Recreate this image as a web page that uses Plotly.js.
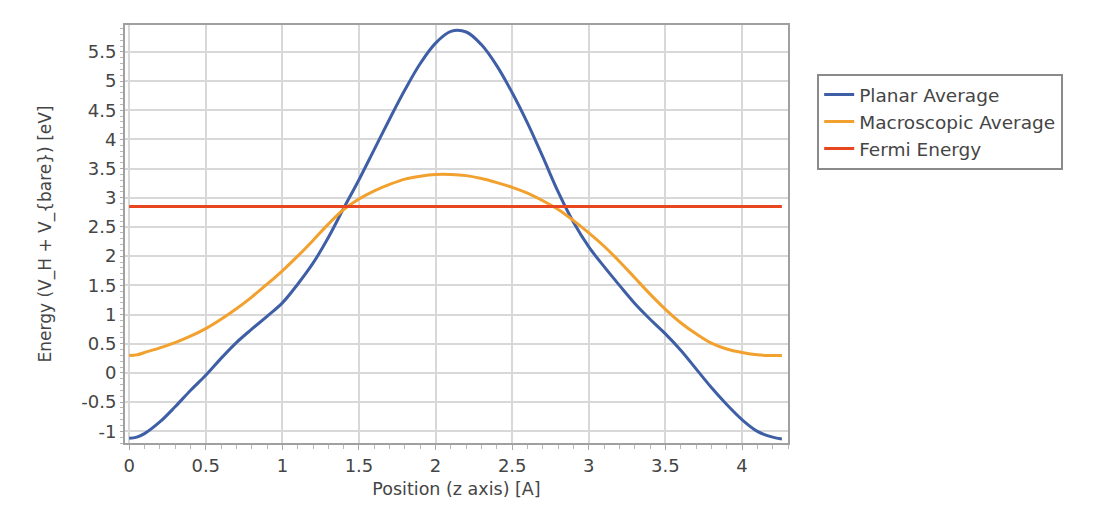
<!DOCTYPE html>
<html>
<head>
<meta charset="utf-8">
<script src="https://cdn.plot.ly/plotly-3.0.1.min.js"></script>
<style>html,body{margin:0;padding:0;background:#fff;}#chart{width:1110px;height:521px;}</style>
</head>
<body>
<div id="chart"></div>
<script>
// Positions along z axis [A]
const positions = [0,0.05,0.1,0.2,0.3,0.4,0.5,0.6,0.7,0.8,0.9,1.0,1.1,1.2,1.3,1.4,1.5,1.6,1.7,1.8,1.9,2.0,2.1,2.2,2.3,2.4,2.5,2.6,2.7,2.8,2.9,3.0,3.1,3.2,3.3,3.4,3.5,3.6,3.7,3.8,3.9,4.0,4.1,4.2,4.26];
// Planar average [eV]
const planarAverage = [-1.12,-1.1,-1.04,-0.84,-0.58,-0.3,-0.04,0.25,0.52,0.75,0.97,1.2,1.52,1.88,2.32,2.82,3.31,3.83,4.35,4.85,5.3,5.65,5.85,5.84,5.62,5.26,4.8,4.28,3.7,3.1,2.58,2.16,1.82,1.5,1.19,0.92,0.67,0.39,0.07,-0.25,-0.54,-0.8,-1.0,-1.1,-1.13];
// Macroscopic average [eV]
const macroAverage = [0.3,0.31,0.35,0.43,0.52,0.63,0.76,0.92,1.1,1.3,1.52,1.75,2.0,2.27,2.55,2.8,2.98,3.12,3.23,3.32,3.37,3.4,3.4,3.38,3.33,3.26,3.18,3.08,2.95,2.8,2.61,2.4,2.17,1.91,1.63,1.35,1.09,0.86,0.67,0.51,0.41,0.35,0.31,0.3,0.3];
// Fermi energy [eV]
const fermiEnergy = 2.85;
const fermiX = [0, 4.26];
const fermiY = [fermiEnergy, fermiEnergy];
const seriesNames = ["Planar Average", "Macroscopic Average", "Fermi Energy"];
const yTickVals = [-1,-0.5,0,0.5,1,1.5,2,2.5,3,3.5,4,4.5,5,5.5];
const xTickVals = [0,0.5,1,1.5,2,2.5,3,3.5,4];

const traces = [
  {x: positions, y: planarAverage, name: seriesNames[0], mode: 'lines', line: {color: '#3e5ea6', width: 3, shape: 'spline', smoothing: 1}},
  {x: positions, y: macroAverage, name: seriesNames[1], mode: 'lines', line: {color: '#f2a02e', width: 3, shape: 'spline', smoothing: 1}},
  {x: fermiX, y: fermiY, name: seriesNames[2], mode: 'lines', line: {color: '#e8461e', width: 3}}
];

const fontFam = '"DejaVu Sans", "Liberation Sans", sans-serif';
const txt = '#454545';
const layout = {
  width: 1110, height: 521,
  margin: {l: 125, r: 322, t: 25, b: 78},
  paper_bgcolor: '#ffffff', plot_bgcolor: '#ffffff',
  font: {family: fontFam, size: 16, color: txt},
  showlegend: true,
  legend: {
    x: 1.044, y: 0.883, xanchor: 'left', yanchor: 'top',
    bordercolor: '#8a8a8a', borderwidth: 2, bgcolor: '#ffffff',
    font: {family: fontFam, size: 18.5, color: txt},
    tracegroupgap: 0
  },
  xaxis: {
    range: [-0.027, 4.3],
    tickvals: xTickVals, ticktext: xTickVals.map(String),
    showgrid: true, gridcolor: '#d8d8d8', gridwidth: 2,
    zeroline: false,
    showline: true, mirror: true, linecolor: '#a0a0a0', linewidth: 2,
    ticks: 'outside', ticklen: 5, tickcolor: '#a8a8a8', tickwidth: 1,
    minor: {dtick: 0.1, tick0: 0, ticks: 'outside', ticklen: 4, tickcolor: '#b8b8b8', showgrid: false},
    tickfont: {size: 18, color: txt},
    title: {text: 'Position (z axis) [A]', font: {size: 17.5, color: txt}, standoff: 8}
  },
  yaxis: {
    range: [-1.2, 5.96],
    tickvals: yTickVals, ticktext: yTickVals.map(String),
    showgrid: true, gridcolor: '#d8d8d8', gridwidth: 2,
    zeroline: false,
    showline: true, mirror: true, linecolor: '#a0a0a0', linewidth: 2,
    ticks: 'outside', ticklen: 3, tickcolor: '#a8a8a8', tickwidth: 1,
    minor: {dtick: 0.1, tick0: 0, ticks: 'outside', ticklen: 3, tickcolor: '#b8b8b8', showgrid: false},
    tickfont: {size: 18, color: txt},
    title: {text: 'Energy (V_H + V_{bare}) [eV]', font: {size: 17, color: txt}, standoff: 25}
  }
};

Plotly.newPlot('chart', traces, layout, {displayModeBar: false, staticPlot: true});
</script>
</body>
</html>
